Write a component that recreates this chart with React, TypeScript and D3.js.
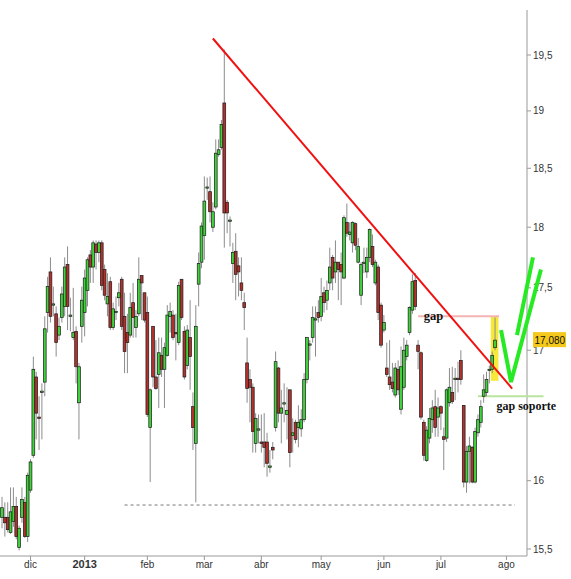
import React from "react";
import * as d3 from "d3";

// ---- data (daily OHLC, index 0 = ~19 Nov 2012, index 173 = 26 Jul 2013) ----
const opens = [15.73,15.73,15.73,15.62,15.70,15.81,15.51,15.73,15.84,15.59,15.93,16.19,16.79,16.48,16.67,16.75,17.30,17.63,17.36,17.29,17.12,17.26,17.35,17.69,17.27,17.10,17.15,16.59,17.19,17.30,17.48,17.77,17.67,17.86,17.79,17.87,17.65,17.37,17.55,17.18,17.30,17.42,17.57,17.27,17.14,17.12,17.38,17.18,17.29,17.60,17.46,17.30,16.40,17.19,16.79,16.81,16.96,16.85,16.96,17.27,17.28,17.14,17.06,17.57,17.15,16.88,17.10,16.56,16.28,17.53,17.71,17.93,18.33,18.30,18.00,18.17,18.62,18.68,19.07,18.21,18.05,17.70,17.80,17.68,17.54,17.38,16.90,16.77,16.71,16.28,16.38,16.29,16.29,16.29,16.10,16.25,16.40,16.86,16.51,16.58,16.50,16.69,16.34,16.44,16.40,16.39,16.46,16.77,17.04,17.10,17.24,17.30,17.27,17.46,17.40,17.54,17.75,17.63,17.71,17.69,17.58,18.04,17.94,17.87,18.03,17.71,17.44,17.70,17.63,17.75,17.84,17.54,17.67,17.36,17.16,16.86,16.79,16.75,16.65,16.85,16.54,16.71,16.95,17.14,17.32,17.56,17.04,16.98,16.44,16.15,16.32,16.46,16.56,16.48,16.56,16.33,16.32,16.59,16.67,16.77,16.78,16.92,16.57,15.99,16.22,16.25,15.99,16.36,16.44,16.64,16.67,16.84,16.85,17.02];
const highs = [15.88,15.84,15.84,15.95,15.95,15.88,15.67,15.95,15.88,16.06,16.16,16.95,16.83,16.64,16.74,17.27,17.59,17.75,17.51,17.35,17.26,17.51,17.75,17.84,17.42,17.50,17.19,16.90,17.51,17.65,17.75,17.81,17.89,17.89,17.89,17.89,17.69,17.62,17.59,17.38,17.43,17.54,17.59,17.46,17.29,17.46,17.54,17.32,17.75,17.60,17.46,17.43,16.70,17.19,17.08,17.10,17.10,17.06,17.36,17.38,17.32,17.29,17.55,17.57,17.19,17.20,17.40,16.67,17.36,17.79,18.04,18.43,18.42,18.43,18.21,18.75,18.75,18.92,19.55,18.23,18.09,17.87,17.95,17.75,17.75,17.46,17.10,16.85,16.74,16.51,16.50,16.50,16.51,16.36,16.23,16.29,16.99,16.87,16.69,16.74,16.71,16.69,16.47,16.46,16.57,16.54,16.82,17.10,17.08,17.35,17.35,17.40,17.58,17.51,17.56,17.83,17.77,17.89,17.71,17.79,18.10,18.20,18.04,18.05,18.04,17.91,17.71,17.83,17.83,17.99,17.94,17.73,17.69,17.38,17.28,17.06,17.08,16.90,16.90,16.92,17.03,17.10,17.08,17.35,17.61,17.62,17.08,16.99,16.46,16.41,16.55,16.61,16.69,16.63,16.57,16.40,16.70,16.86,16.87,16.86,16.91,17.00,16.57,16.26,16.33,16.26,16.40,16.50,16.61,16.81,16.83,16.88,16.99,17.26];
const lows = [15.65,15.59,15.62,15.61,15.66,15.57,15.49,15.69,15.58,15.55,15.91,16.17,16.31,16.23,16.31,16.64,17.14,17.22,17.27,16.95,17.08,17.22,17.27,17.16,17.15,17.08,16.74,16.31,17.06,17.11,17.35,17.54,17.54,17.65,17.71,17.48,17.40,17.27,17.16,17.16,17.24,17.35,17.16,16.82,16.82,17.10,17.10,17.10,17.27,17.24,17.22,16.48,15.99,16.71,16.69,16.55,16.79,16.55,16.95,17.14,17.08,16.92,17.04,17.24,16.77,16.85,16.69,16.23,15.84,17.35,17.66,17.73,18.23,18.04,17.96,18.15,18.60,18.66,17.83,17.95,17.84,17.54,17.40,17.43,17.40,17.16,16.59,16.44,16.21,16.21,16.28,16.21,16.10,16.03,16.06,16.16,16.37,16.44,16.28,16.44,16.31,16.10,16.21,16.28,16.25,16.33,16.44,16.74,16.92,17.06,16.95,17.22,17.23,17.30,17.32,17.48,17.48,17.54,17.40,17.36,17.57,17.92,17.89,17.79,17.81,17.70,17.36,17.62,17.58,17.71,17.67,17.52,17.24,17.02,17.14,16.79,16.69,16.67,16.63,16.65,16.50,16.69,16.92,17.12,17.29,17.32,16.85,16.46,16.15,16.14,16.28,16.36,16.33,16.33,16.38,16.08,16.29,16.56,16.58,16.61,16.67,16.73,15.95,15.91,15.98,15.98,15.98,16.33,16.40,16.59,16.64,16.74,16.82,17.00];
const closes = [15.80,15.69,15.64,15.77,15.81,15.59,15.65,15.86,15.59,16.04,16.14,16.85,16.51,16.47,16.68,17.17,17.51,17.27,17.37,17.06,17.19,17.45,17.67,17.35,17.28,17.14,16.87,16.87,17.40,17.58,17.73,17.67,17.87,17.79,17.87,17.52,17.44,17.43,17.18,17.33,17.31,17.46,17.19,16.99,17.06,17.34,17.26,17.27,17.57,17.54,17.24,16.50,16.69,16.79,16.70,16.98,16.85,17.02,17.28,17.31,17.10,17.13,17.52,17.26,16.79,17.16,16.95,16.40,17.19,17.70,18.01,18.22,18.34,18.13,18.13,18.63,18.66,18.88,18.12,18.12,18.06,17.79,17.61,17.63,17.48,17.34,16.70,16.71,16.37,16.47,16.39,16.28,16.25,16.13,16.11,16.23,16.91,16.51,16.55,16.59,16.53,16.21,16.36,16.31,16.44,16.46,16.77,17.10,17.05,17.26,17.25,17.26,17.43,17.38,17.48,17.67,17.58,17.71,17.65,17.63,18.08,17.95,17.96,18.04,17.85,17.84,17.69,17.71,17.75,17.98,17.69,17.71,17.30,17.04,17.22,16.81,16.73,16.70,16.86,16.69,16.87,17.00,17.04,17.34,17.55,17.35,16.99,16.48,16.19,16.38,16.47,16.55,16.40,16.55,16.51,16.31,16.69,16.71,16.60,16.78,16.77,16.77,15.99,16.22,16.26,15.99,16.37,16.46,16.56,16.69,16.77,16.85,16.96,17.08];

const monthLabels = ["dic", "2013", "feb", "mar", "abr", "may", "jun", "jul", "ago"];
const monthIndex = [10, 29, 51, 71, 91, 112, 134, 154, 177];
const yTicks = [15.5, 16, 17, 17.5, 18, 18.5, 19, 19.5];
const lastPrice = 17.08;

// annotations (index, price)
const trendLine = [[74, 19.65], [179, 16.70]];
const gapLevel = 17.27;
const gapRange = [146, 174.4];
const gapBox = [171.5, 174.2, 17.27, 16.76];
const supportLevel = 16.64;
const supportRange = [167, 190];
const dashedLevel = 15.82;
const dashedRange = [43, 180];
const checkA = [[175.1, 17.16], [178.6, 16.75], [189.1, 17.65]];
const checkB = [[180.7, 17.12], [186.3, 17.75]];

const W = 571, H = 579;

export default function App() {
  const x = d3.scaleLinear().domain([0, 173]).range([2, 2 + 173 * 2.85]);
  const y = d3.scaleLog().domain([15.5, 19.5]).range([549, 55]);
  const axisX = 527;
  const axisY = 556;
  const bw = 2.8;
  const line = d3.line<number[]>().x(d => x(d[0])).y(d => y(d[1]));
  const fmt = (v: number | string) => String(v).replace(".", ",");
  const serif = "'Liberation Serif', 'Times New Roman', serif";

  return (
    <svg width={W} height={H} style={{ position: "absolute", left: 0, top: 0, background: "#fff" }}
      fontFamily="Arial, 'Liberation Sans', sans-serif">
      {/* axes */}
      <line x1={axisX} x2={axisX} y1={10} y2={axisY} stroke="#999" strokeWidth={1} />
      <line x1={0} x2={axisX} y1={axisY} y2={axisY} stroke="#999" strokeWidth={1} />
      {yTicks.map(t => (
        <g key={t}>
          <line x1={axisX} x2={axisX + 4} y1={y(t)} y2={y(t)} stroke="#999" />
          <text x={axisX + 6} y={y(t) + 3.5} fontSize={10} fill="#333">{fmt(t)}</text>
        </g>
      ))}
      {monthIndex.map((m, i) => (
        <g key={i}>
          <line x1={x(m)} x2={x(m)} y1={axisY} y2={axisY + 4} stroke="#999" />
          <text x={x(m)} y={axisY + 12} fontSize={i === 1 ? 11 : 10} fontWeight={i === 1 ? "bold" : "normal"}
            textAnchor="middle" fill="#333">{monthLabels[i]}</text>
        </g>
      ))}
      {/* dashed support */}
      <line x1={x(dashedRange[0])} x2={x(dashedRange[1])} y1={y(dashedLevel)} y2={y(dashedLevel)}
        stroke="#777" strokeDasharray="3,3" strokeWidth={1} />
      {/* gap box */}
      <rect x={x(gapBox[0])} width={x(gapBox[1]) - x(gapBox[0])} y={y(gapBox[2])} height={y(gapBox[3]) - y(gapBox[2])}
        fill="#f7e93a" />
      {/* gap line */}
      <line x1={x(gapRange[0])} x2={x(gapRange[1])} y1={y(gapLevel)} y2={y(gapLevel)} stroke="#f4b4b4" strokeWidth={2} />
      <line x1={x(supportRange[0])} x2={x(supportRange[1])} y1={y(supportLevel)} y2={y(supportLevel)} stroke="#b8e4a0" strokeWidth={2} />
      {/* candles */}
      {opens.map((o, i) => {
        const c = closes[i];
        const up = c >= o;
        const top = y(Math.max(o, c));
        const bot = y(Math.min(o, c));
        const cx = x(i);
        return (
          <g key={i}>
            <line x1={cx} x2={cx} y1={y(highs[i])} y2={y(lows[i])} stroke="#8c8c8c" strokeWidth={1} />
            <rect x={cx - bw / 2} y={top} width={bw} height={Math.max(bot - top, 1)}
              fill={up ? "#3fd23a" : "#b3312c"} stroke="#1a1a1a" strokeWidth={0.7} />
          </g>
        );
      })}
      {/* trend line */}
      <path d={line(trendLine) || ""} stroke="#f01010" strokeWidth={2} fill="none" />
      {/* green check */}
      <path d={line(checkA) || ""} stroke="#26ea22" strokeWidth={4} fill="none" strokeLinejoin="miter" />
      <path d={line(checkB) || ""} stroke="#26ea22" strokeWidth={4} fill="none" />
      {/* labels */}
      <text x={x(148)} y={y(gapLevel) + 4} fontFamily={serif} fontWeight="bold" fontSize={12.5} fill="#111">gap</text>
      <text x={x(173.5)} y={y(supportLevel) + 14} fontFamily={serif} fontWeight="bold" fontSize={12} fill="#111">gap soporte</text>
      <rect x={axisX + 6} y={y(lastPrice) - 8} width={33} height={15} fill="#f5c91c" />
      <text x={axisX + 7.5} y={y(lastPrice) + 3.5} fontSize={10} fill="#111">{fmt(lastPrice.toFixed(3))}</text>
    </svg>
  );
}
